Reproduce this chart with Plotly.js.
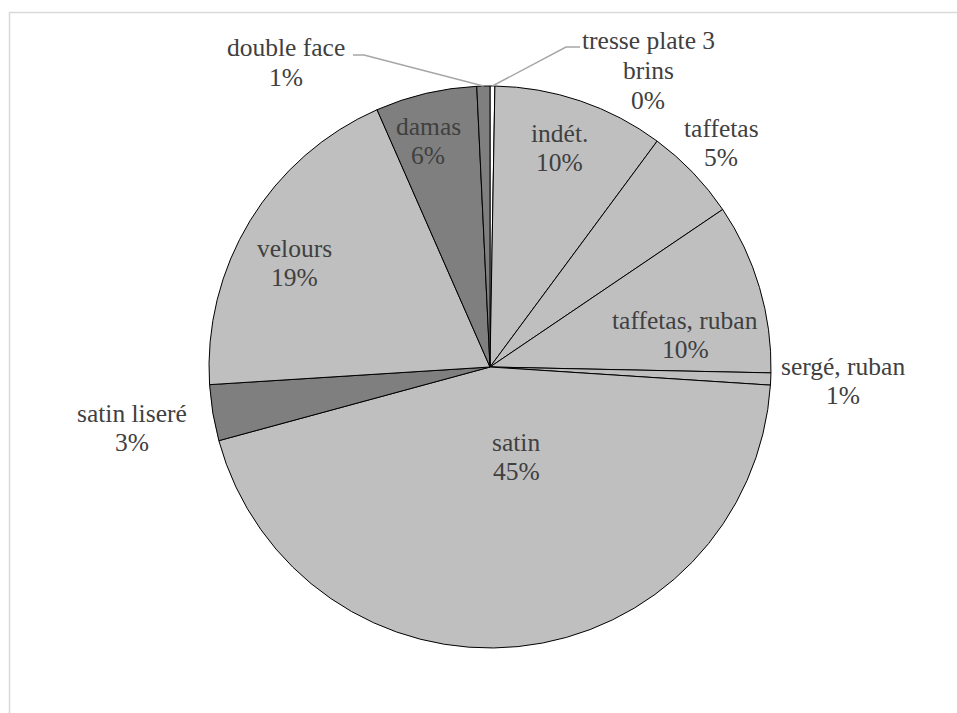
<!DOCTYPE html>
<html>
<head>
<meta charset="utf-8">
<script src="https://cdn.plot.ly/plotly-3.0.1.min.js"></script>
<style>
html,body{margin:0;padding:0;background:#fff;}
#chart{width:957px;height:713px;}
#chart svg text{font-family:"Liberation Serif","Times New Roman",serif !important;}
</style>
</head>
<body>
<div id="chart"></div>
<script>
// ---- data ----
const labels = ['tresse plate 3 brins', 'indét.', 'taffetas', 'taffetas, ruban', 'sergé, ruban', 'satin', 'satin liseré', 'velours', 'damas', 'double face'];
const labelWrapped = ['tresse plate 3<br>brins', 'indét.', 'taffetas', 'taffetas, ruban', 'sergé, ruban', 'satin', 'satin liseré', 'velours', 'damas', 'double face'];
const values = [1, 35.5, 19.4, 35.3, 2.5, 161.1, 11.6, 69.9, 21.0, 2.7];
const sliceColors = ['#ffffff', '#bfbfbf', '#bfbfbf', '#bfbfbf', '#bfbfbf', '#bfbfbf', '#7f7f7f', '#bfbfbf', '#7f7f7f', '#7f7f7f'];

// ---- label placement (pixel centre of first line) ----
const labelPos = [[648, 41], [559, 133], [721, 128], [685, 320], [843, 366], [516, 442], [132, 413], [294, 248], [428, 126], [286, 48]];
const leaderLabels = {0: [580, 47, 566, 47], 9: [353, 55, 364, 55]}; // [label end x, y, bend x, y]

const W = 957, H = 713;
const M = {l: 209, r: 186, t: 86, b: 65};
const pw = W - M.l - M.r, ph = H - M.t - M.b;
const px2x = x => (x - M.l) / pw;
const px2y = y => 1 - (y - M.t) / ph;
const cx = M.l + pw / 2, cy = M.t + ph / 2, R = Math.min(pw, ph) / 2;

const total = values.reduce((a, b) => a + b, 0);
const pct = values.map(v => Math.round(v / total * 100) + '%');

const lineGap = 29.5;
const annotations = [];
labels.forEach((lab, i) => {
  const lines = labelWrapped[i].split('<br>').concat([pct[i]]);
  lines.forEach((t, k) => {
    annotations.push({
      text: t, showarrow: false, xref: 'paper', yref: 'paper',
      x: px2x(labelPos[i][0]), y: px2y(labelPos[i][1] + k * lineGap),
      xanchor: 'center', yanchor: 'middle',
      font: {family: 'Liberation Serif', size: 25.5, color: '#404040'}
    });
  });
});

// leader lines from slice mid-points (angles from data) to labels
const shapes = [];
let cum = 0;
const mids = values.map(v => { const m = cum + v / 2; cum += v; return m / total * 360; });
Object.keys(leaderLabels).forEach(k => {
  const i = +k;
  const a = mids[i] * Math.PI / 180;
  const ex = cx + R * Math.sin(a), ey = cy - R * Math.cos(a);
  const [lx, ly, bx, by] = leaderLabels[k];
  shapes.push({
    type: 'path', xref: 'paper', yref: 'paper',
    path: `M ${px2x(lx)} ${px2y(ly)} L ${px2x(bx)} ${px2y(by)} L ${px2x(ex)} ${px2y(ey)}`,
    line: {color: '#a6a6a6', width: 1.5}
  });
});
// outer chart frame
shapes.push({
  type: 'rect', xref: 'paper', yref: 'paper', layer: 'below',
  x0: px2x(9.5), y0: px2y(760), x1: px2x(1000), y1: px2y(12.5),
  line: {color: '#d9d9d9', width: 1.5}
});

const trace = {
  type: 'pie',
  labels: labels,
  values: values,
  sort: false,
  direction: 'clockwise',
  rotation: 0,
  textinfo: 'none',
  hoverinfo: 'label+percent',
  marker: {colors: sliceColors, line: {color: '#000000', width: 1}},
  showlegend: false
};

const layout = {
  width: W, height: H,
  margin: M,
  font: {family: 'Liberation Serif'},
  showlegend: false,
  annotations: annotations,
  shapes: shapes
};

Plotly.newPlot('chart', [trace], layout, {staticPlot: true});
</script>
</body>
</html>
